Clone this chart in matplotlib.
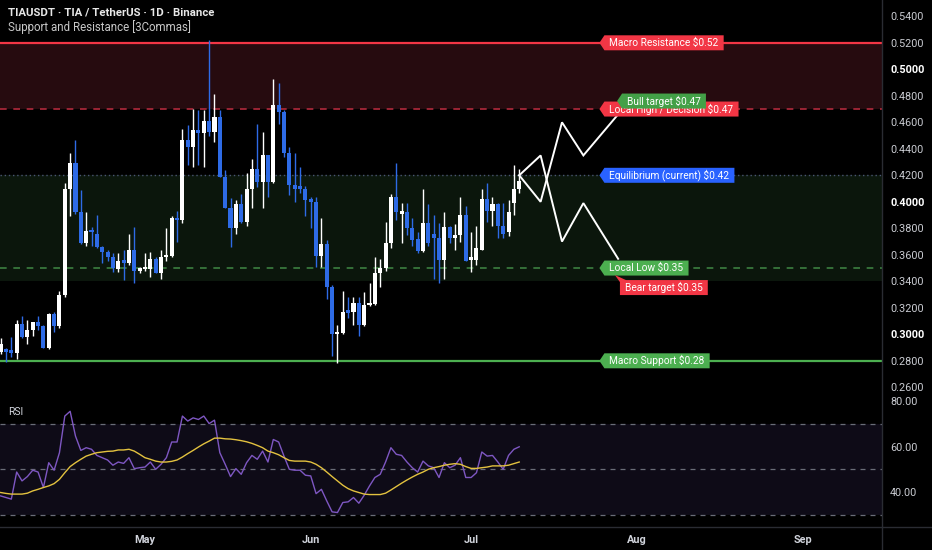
import numpy as np
import pandas as pd
import matplotlib
matplotlib.use('Agg')
import matplotlib.pyplot as plt
import matplotlib.dates as mdates
from matplotlib.patches import Polygon
from matplotlib.lines import Line2D
from matplotlib.transforms import IdentityTransform

plt.rcParams['font.family'] = ['Roboto', 'DejaVu Sans']

# dados (candles diários)
start_date = '2025-04-04'
opens = [.287, .289, .287, .286, .308, .298, .303, .309, .306, .290,
         .315, .306, .330, .410, .429, .392, .369, .379, .376, .366,
         .362, .358, .349, .355, .354, .364, .348, .349, .349, .357,
         .346, .358, .359, .388, .386, .447, .441, .454, .452, .461,
         .453, .464, .419, .395, .380, .398, .385, .410, .425, .415,
         .435, .415, .473, .468, .437, .413, .411, .410, .401, .400,
         .359, .368, .336, .300, .301, .318, .317, .324, .307, .322,
         .323, .346, .350, .369, .404, .391, .392, .380, .372, .363,
         .384, .376, .373, .356, .381, .373, .375, .390, .356, .356,
         .364, .402, .393, .398, .382, .377, .399, .410]
highs = [.297, .290, .298, .311, .314, .311, .309, .314, .307, .316,
         .317, .333, .414, .437, .447, .409, .392, .381, .390, .367,
         .364, .361, .361, .364, .376, .381, .351, .361, .362, .358,
         .364, .380, .389, .393, .455, .458, .470, .469, .469, .522,
         .481, .469, .424, .403, .401, .406, .422, .432, .459, .453,
         .435, .493, .490, .469, .441, .437, .426, .412, .404, .404,
         .388, .371, .337, .307, .333, .328, .328, .328, .332, .339,
         .358, .357, .385, .406, .429, .399, .399, .388, .377, .410,
         .398, .390, .384, .392, .382, .383, .404, .397, .377, .382,
         .410, .414, .404, .399, .399, .401, .428, .425]
lows = [.285, .279, .283, .281, .297, .293, .299, .303, .290, .289,
        .302, .305, .328, .389, .391, .368, .367, .367, .365, .354,
        .355, .347, .347, .341, .352, .339, .346, .348, .343, .346,
        .342, .355, .358, .370, .384, .428, .426, .428, .426, .450,
        .445, .419, .395, .366, .376, .384, .382, .395, .411, .395,
        .404, .414, .459, .434, .405, .400, .407, .389, .380, .351,
        .351, .327, .284, .278, .300, .312, .307, .299, .306, .321,
        .322, .336, .348, .365, .386, .369, .375, .367, .361, .362,
        .367, .342, .339, .342, .369, .364, .370, .355, .347, .352,
        .364, .385, .382, .373, .373, .374, .390, .407]
closes = [.293, .287, .286, .308, .298, .303, .309, .306, .290, .315,
          .306, .330, .410, .429, .392, .369, .378, .377, .366, .362,
          .358, .350, .355, .354, .364, .348, .349, .351, .357, .346,
          .358, .360, .388, .386, .447, .441, .454, .452, .461, .453,
          .464, .419, .395, .380, .398, .385, .410, .425, .415, .435,
          .415, .473, .468, .437, .413, .410, .410, .401, .400, .359,
          .368, .336, .300, .301, .317, .316, .324, .307, .322, .324,
          .346, .350, .369, .404, .392, .392, .380, .371, .363, .384,
          .369, .373, .356, .381, .373, .375, .390, .355, .358, .365,
          .402, .393, .398, .382, .376, .392, .410, .416]

rsi_values = [38.3, 37.6, 36.9, 48.8, 44.9, 46.8, 49.6, 48.8, 42.0, 52.9,
              49.6, 57.3, 73.4, 75.5, 64.6, 58.3, 59.5, 58.8, 56.1, 55.1,
              54.1, 51.8, 53.2, 52.6, 55.1, 50.3, 50.7, 51.0, 53.2, 50.0,
              52.2, 55.1, 62.0, 62.0, 73.4, 71.2, 72.6, 71.9, 73.4, 70.1,
              71.6, 57.3, 52.2, 46.8, 50.3, 47.8, 52.9, 56.1, 54.4, 58.0,
              53.2, 63.1, 62.0, 55.8, 50.0, 49.6, 49.6, 47.4, 47.1, 39.3,
              41.2, 36.1, 31.3, 31.0, 35.4, 35.7, 37.6, 35.1, 38.6, 42.7,
              46.4, 47.8, 53.2, 59.5, 56.6, 56.1, 53.2, 50.7, 48.8, 53.6,
              51.5, 50.7, 46.4, 52.9, 50.7, 51.8, 55.1, 46.4, 46.4, 48.5,
              57.6, 55.8, 56.1, 53.2, 50.0, 56.1, 58.8, 59.9]
rsi_ma = [39.8, 39.4, 39.1, 39.1, 39.1, 39.5, 40.5, 41.2, 42.0, 42.7,
          43.7, 45.6, 48.5, 51.2, 52.9, 54.4, 55.8, 56.6, 57.3, 57.6,
          57.9, 58.0, 58.5, 58.5, 58.8, 58.0, 56.6, 55.1, 54.4, 53.6,
          53.2, 53.2, 53.5, 54.1, 55.4, 56.9, 58.3, 59.8, 61.2, 62.4,
          63.7, 63.7, 63.4, 63.3, 63.0, 62.6, 62.1, 61.4, 60.5, 59.5,
          58.0, 57.3, 56.4, 55.1, 53.9, 53.6, 53.6, 53.6, 53.2, 52.2,
          50.7, 48.8, 46.8, 44.9, 43.0, 41.5, 40.5, 39.8, 39.1, 38.9,
          38.9, 38.9, 39.5, 40.9, 42.4, 43.9, 45.3, 46.6, 47.8, 48.8,
          50.0, 50.7, 51.2, 51.8, 52.2, 52.5, 52.2, 51.2, 50.4, 50.4,
          50.7, 51.0, 51.5, 51.5, 51.5, 51.8, 52.5, 53.2]

# projeções (dias após o último candle)
proj_offsets = [0, 4, 8, 12, 18.5]
bull_path = [0.420, 0.400, 0.460, 0.435, 0.466]
bear_path = [0.420, 0.435, 0.370, 0.399, 0.357]

# níveis de suporte / resistência
level_names = ['Macro Resistance', 'Local High / Decision', 'Equilibrium (current)',
               'Local Low', 'Macro Support']
level_values = [0.52, 0.47, 0.42, 0.35, 0.28]
resistance_zone = (0.47, 0.52)
support_zone = (0.34, 0.42)
bull_target = 0.47
bear_target = 0.35

price_ticks = [0.26, 0.28, 0.30, 0.32, 0.34, 0.36, 0.38, 0.40,
               0.42, 0.44, 0.46, 0.48, 0.50, 0.52, 0.54]
bold_ticks = [0.30, 0.40, 0.50]
rsi_ticks = [40, 60, 80]
rsi_bands = [70, 50, 30]
month_dates = ['2025-05-01', '2025-06-01', '2025-07-01', '2025-08-01', '2025-09-01']
month_labels = ['May', 'Jun', 'Jul', 'Aug', 'Sep']

# cores
BG = '#000000'
UP = '#FFFFFF'
DOWN = '#2E6BE6'
RED = '#F23645'
GREEN = '#4CAF50'
BLUE = '#2962FF'
TXT = '#C9CBD1'
level_colors = [RED, RED, BLUE, GREEN, GREEN]
level_styles = ['-', (0, (4, 4)), (0, (1, 2)), (0, (4, 4)), '-']
line_colors = [RED, '#B02A3C', '#4A5573', '#3C7F40', GREEN]
line_widths = [1.6, 1.2, 1.0, 1.2, 1.6]

W, H = 932, 550
AXR = 881.7
fig = plt.figure(figsize=(W / 100, H / 100), dpi=100, facecolor=BG)
ax = fig.add_axes([0, 155 / H, AXR / W, 395 / H], facecolor=BG)
ax_rsi = fig.add_axes([0, 23 / H, AXR / W, 132 / H], facecolor=BG, sharex=ax)

dates = pd.date_range(start_date, periods=len(opens), freq='D')
x = mdates.date2num(dates)
o = np.array(opens)
h = np.array(highs)
l = np.array(lows)
c = np.array(closes)
cols = np.where(c >= o, UP, DOWN)

may1 = mdates.date2num(pd.Timestamp('2025-05-01'))
ax.set_xlim(may1 - 27.12, may1 + 137.8)
ax.set_ylim(0.2542, 0.5523)

# zonas e níveis
ax.axhspan(*resistance_zone, color='#260B0F', lw=0, zorder=0)
ax.axhspan(*support_zone, color='#0B160C', lw=0, zorder=0)
for val, col, ls, lw in zip(level_values, line_colors, level_styles, line_widths):
    ax.axhline(val, color=col, ls=ls, lw=lw, zorder=1)

# candles
ax.vlines(x, l, h, colors=cols, linewidth=1.0, zorder=3)
body_low = np.minimum(o, c)
body_h = np.maximum(np.abs(c - o), 0.002)
ax.bar(x, body_h, bottom=body_low, width=0.76, color=cols, linewidth=0, zorder=4)

# projeções
px = x[-1] + np.array(proj_offsets)
ax.plot(px, bull_path, color='white', lw=1.4, zorder=5, solid_joinstyle='miter')
ax.plot(px, bear_path, color='white', lw=1.4, zorder=5, solid_joinstyle='miter')

# eixos
for a in (ax, ax_rsi):
    for s in a.spines.values():
        s.set_visible(False)
ax.yaxis.tick_right()
ax.set_yticks(price_ticks)
ax.set_yticklabels([f'{t:.4f}' for t in price_ticks])
ax.tick_params(axis='y', length=0, pad=6, labelsize=7.8, labelcolor=TXT)
for t, lab in zip(price_ticks, ax.get_yticklabels()):
    if any(abs(t - b) < 1e-9 for b in bold_ticks):
        lab.set_fontweight('bold')
        lab.set_color('white')
ax.tick_params(axis='x', length=0, labelbottom=False)

# RSI
ax_rsi.set_ylim(24.64, 82.66)
ax_rsi.axhspan(30, 70, color='#0E0B17', lw=0, zorder=0)
for b in rsi_bands:
    ax_rsi.axhline(b, color='#6A6D78', lw=0.9, ls=(0, (4, 4)), zorder=1)
ax_rsi.plot(x, rsi_values, color='#7E57C2', lw=1.0, zorder=3)
ax_rsi.plot(x, rsi_ma, color='#E3C23F', lw=1.0, zorder=4)
ax_rsi.yaxis.tick_right()
ax_rsi.set_yticks(rsi_ticks)
ax_rsi.set_yticklabels([f'{t:.2f}' for t in rsi_ticks])
ax_rsi.tick_params(axis='y', length=0, pad=6, labelsize=7.8, labelcolor=TXT)
ax_rsi.set_xticks(mdates.date2num(pd.to_datetime(month_dates)))
ax_rsi.set_xticklabels(month_labels)
ax_rsi.tick_params(axis='x', length=0, pad=6, labelsize=7.8, labelcolor='#D1D4DC')
for lab in ax_rsi.get_xticklabels():
    lab.set_fontweight('bold')

# separadores
fig.add_artist(Line2D([AXR / W] * 2, [0, 1], transform=fig.transFigure, color='#2A2C33', lw=1))
fig.add_artist(Line2D([0, 1], [23 / H] * 2, transform=fig.transFigure, color='#2A2C33', lw=1))

# títulos
fig.text(8 / W, 1 - 13 / H, 'TIAUSDT · TIA / TetherUS · 1D · Binance', color='#E8E8E8',
         fontsize=8.2, fontweight='bold', va='center', ha='left')
fig.text(8 / W, 1 - 27.5 / H, 'Support and Resistance [3Commas]', color='#C8C8C8',
         fontsize=8.3, va='center', ha='left')
fig.text(8 / W, 1 - 412 / H, 'RSI', color='#D1D4DC', fontsize=7.5, va='center', ha='left')

# etiquetas
renderer = fig.canvas.get_renderer()


def tag(xd, yd, text, color, kind='left', dy=0, z=7):
    tx, ty = ax.transData.transform((xd, yd))
    ty += dy
    hh = 7.5
    if kind == 'left':
        left = tx + 5
        cy = ty
    else:
        left = tx + 5
        cy = ty - 5 - hh
    t = ax.text(left + 5, cy, text, transform=IdentityTransform(), color='white',
                fontsize=7.3, va='center', ha='left', zorder=z + 1, parse_math=False)
    w = t.get_window_extent(renderer).width
    right = left + w + 10
    if kind == 'left':
        pts = [(tx, ty), (left, cy + hh), (right, cy + hh), (right, cy - hh), (left, cy - hh)]
    else:
        pts = [(tx, ty), (left + 6, cy + hh), (right, cy + hh), (right, cy - hh),
               (left, cy - hh), (left, cy + hh - 2)]
    ax.add_patch(Polygon(pts, closed=True, transform=IdentityTransform(), facecolor=color,
                         edgecolor='none', zorder=z, clip_on=False))


tag_x = x[-1] + 15
for i, (name, val, col) in enumerate(zip(level_names, level_values, level_colors)):
    tag(tag_x, val, f'{name} ${val:.2f}', col, z=7 + 2 * i)
tag(x[-1] + 18.3, bull_target, f'Bull target ${bull_target:.2f}', '#43A047', dy=8, z=20)
tag(x[-1] + 17.9, bear_target, f'Bear target ${bear_target:.2f}', RED, kind='up', dy=-7, z=20)

fig.savefig('out.png', dpi=100, facecolor=BG)
